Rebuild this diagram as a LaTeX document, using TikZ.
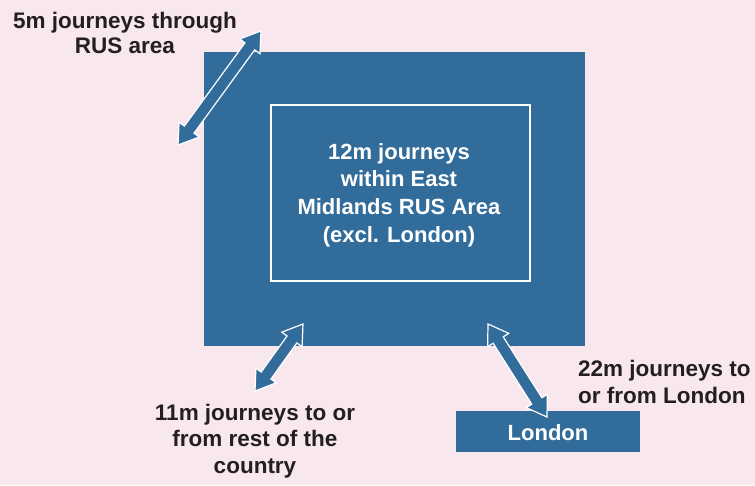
\documentclass[tikz,border=0pt]{standalone}
\usepackage{fontspec}
\setmainfont{Liberation Sans}
\usetikzlibrary{calc}

\definecolor{bgpink}{RGB}{249,231,238}
\definecolor{rusblue}{RGB}{50,108,155}
\definecolor{inkdark}{RGB}{35,31,32}

% head length, head half width, shaft half width
\newcommand\hl{19pt}
\newcommand\hw{12.5pt}
\newcommand\sw{6pt}

% double-headed block arrow between two tip coordinates
\newcommand\blockarrow[2]{%
  \filldraw[fill=rusblue, draw=white, line width=1.2pt, line join=miter]
    (#1) -- ($(#1)!\hl!(#2)!\hw!90:(#2)$) -- ($(#1)!\hl!(#2)!\sw!90:(#2)$)
    -- ($(#2)!\hl!(#1)!\sw!-90:(#1)$) -- ($(#2)!\hl!(#1)!\hw!-90:(#1)$)
    -- (#2) -- ($(#2)!\hl!(#1)!\hw!90:(#1)$) -- ($(#2)!\hl!(#1)!\sw!90:(#1)$)
    -- ($(#1)!\hl!(#2)!\sw!-90:(#2)$) -- ($(#1)!\hl!(#2)!\hw!-90:(#2)$) -- cycle;}

\tikzset{
  label/.style={font=\bfseries\fontsize{22.5}{26.5}\selectfont, text=inkdark, inner sep=0pt},
  whitelabel/.style={font=\bfseries\fontsize{22}{27.7}\selectfont, text=white, inner sep=0pt},
}

\begin{document}
\begin{tikzpicture}[x=1pt, y=-1pt]
  \useasboundingbox (0,0) rectangle (755,485);
  \fill[bgpink] (0,0) rectangle (755,485);

  % RUS area and its inner zone
  \fill[rusblue] (204,52) rectangle (585,346);
  \node[draw=white, line width=1.5pt, minimum width=259pt, minimum height=176pt, inner sep=0pt]
    (inner) at (400.5,193) {};
  \node[whitelabel, align=center] (innertext) at (399,195)
    {12m journeys\\within East\\Midlands RUS Area\\(excl. London)};

  % London box
  \fill[rusblue] (456,411) rectangle (640,452);
  \node[whitelabel] (london) at (548,433) {London};

  % arrow tips
  \coordinate (a1) at (178,145);
  \coordinate (b1) at (261,31);
  \coordinate (a2) at (303,324);
  \coordinate (b2) at (255,391);
  \coordinate (a3) at (488,324);
  \coordinate (b3) at (547,417);
  \blockarrow{a1}{b1}
  \blockarrow{a2}{b2}
  \blockarrow{a3}{b3}

  % labels
  \node[label, align=center, font=\bfseries\fontsize{22.5}{25}\selectfont] (through) at (125,32.7)
    {5m journeys through\\RUS area};
  \node[label, align=center] (rest) at (255,441)
    {11m journeys to or\\from rest of the\\country};
  \node[label, align=left, anchor=west] (tolondon) at (578,382)
    {22m journeys to\\or from London};
\end{tikzpicture}
\end{document}
